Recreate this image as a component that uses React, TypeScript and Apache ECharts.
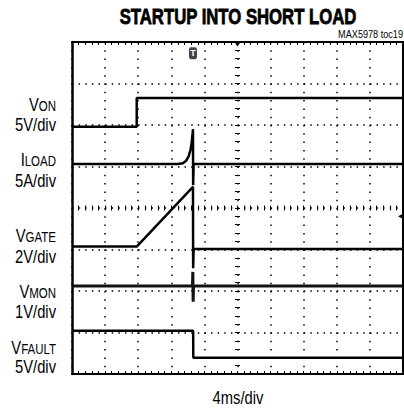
import React, { useEffect, useRef } from "react";
import * as echarts from "echarts";

// Axis extents in scope divisions
const xDivs = [0, 10];
const yDivs = [0, 8];

// Traces: [time (div), level (div)]
const vonTrace = [[0, 5.96], [1.955, 5.96], [1.955, 6.65], [10, 6.65]];
const iloadTrace = [
  [0, 5.06], [3.2, 5.06], [3.35, 5.08], [3.45, 5.14], [3.52, 5.24], [3.58, 5.4],
  [3.62, 5.6], [3.655, 5.9], [3.66, 4.55], [3.675, 5.06], [10, 5.06],
];
const vgateTrace = [[0, 3.07], [1.955, 3.07], [3.655, 4.51], [3.66, 2.55], [3.675, 3.01], [10, 3.01]];
const vmonTrace = [[0, 2.12], [3.64, 2.12], [3.65, 2.46], [3.66, 1.74], [3.67, 2.12], [10, 2.12]];
const vfaultTrace = [[0, 1.04], [3.66, 1.04], [3.665, 0.39], [10, 0.39]];

// Labels
const channelMain = ["V", "I", "V", "V", "V"];
const channelSub = ["ON", "LOAD", "GATE", "MON", "FAULT"];
const channelScale = ["5V/div", "5A/div", "2V/div", "1V/div", "5V/div"];
const titleText = "STARTUP INTO SHORT LOAD";
const tocText = "MAX5978 toc19";
const timeScale = "4ms/div";

// Markers (div coordinates)
const triggerMark = [3.655, 7.73];
const centerMark = [5, 8];
const levelMark = [10, 3.8];

const FONT = "'Liberation Sans Narrow', 'Liberation Sans', Arial, sans-serif";
const NARROW = 0.82;
const nameY = [105, 160, 236, 292, 348];
const scaleY = [124, 180, 256, 311, 366];

export default function App() {
  const ref = useRef<HTMLDivElement>(null);
  useEffect(() => {
    if (!ref.current) return;
    const chart = echarts.init(ref.current, undefined, { renderer: "svg" });
    const hDot = { show: true, lineStyle: { color: "#000", type: [1.5, 5.12], width: 1.5 } };
    const vDot = { show: true, lineStyle: { color: "#000", type: [1.5, 6.8], width: 1.5 } };
    const baseX = { type: "value", min: xDivs[0], max: xDivs[1], axisLabel: { show: false } };
    const baseY = { type: "value", min: yDivs[0], max: yDivs[1], axisLabel: { show: false } };
    const tickAxis = (base: any, position: string, opts: any) => ({
      ...base,
      position,
      interval: 0.2,
      splitLine: { show: false },
      axisLine: { show: false, onZero: false },
      axisTick: { show: true, length: 3, lineStyle: { color: "#000", width: 1 } },
      ...opts,
    });
    const line = (data: number[][], extra: any = {}) => ({
      type: "line",
      data,
      showSymbol: false,
      symbol: "none",
      lineStyle: { color: "#000", width: 2.5 },
      silent: true,
      ...extra,
    });
    const labelGraphics: any[] = [];
    for (let i = 0; i < channelMain.length; i++) {
      labelGraphics.push({
        type: "text",
        x: 56,
        y: nameY[i],
        scaleX: NARROW,
        style: {
          text: `{a|${channelMain[i]}}{b|${channelSub[i]}}`,
          align: "right",
          verticalAlign: "middle",
          fill: "#000",
          rich: {
            a: { fontSize: 18, fontFamily: FONT, lineHeight: 16, verticalAlign: "bottom", fill: "#000" },
            b: { fontSize: 14, fontFamily: FONT, lineHeight: 12, verticalAlign: "bottom", fill: "#000" },
          },
        },
      });
      labelGraphics.push({
        type: "text",
        x: 56,
        y: scaleY[i],
        scaleX: NARROW,
        style: {
          text: channelScale[i],
          align: "right",
          verticalAlign: "middle",
          fontSize: 18,
          lineHeight: 16,
          fontFamily: FONT,
          fill: "#000",
        },
      });
    }
    chart.setOption({
      animation: false,
      backgroundColor: "#fff",
      grid: { left: 72, right: 1, top: 42, bottom: 35 },
      xAxis: [
        {
          ...baseX,
          position: "bottom",
          interval: 1,
          axisLine: { show: true, onZero: false, lineStyle: { color: "#000", width: 2 } },
          axisTick: { show: false },
          splitLine: vDot,
        },
        tickAxis(baseX, "bottom", { axisTick: { show: true, inside: true, length: 3, lineStyle: { color: "#000" } } }),
        tickAxis(baseX, "top", {
          axisLine: { show: true, onZero: false, lineStyle: { color: "#000", width: 2 } },
          axisTick: { show: true, inside: true, length: 3, lineStyle: { color: "#000" } },
        }),
        tickAxis(baseX, "bottom", { offset: -166, axisTick: { show: true, inside: false, length: 2.5, lineStyle: { color: "#000" } } }),
        tickAxis(baseX, "bottom", { offset: -166, axisTick: { show: true, inside: true, length: 2.5, lineStyle: { color: "#000" } } }),
      ],
      yAxis: [
        {
          ...baseY,
          position: "left",
          interval: 1,
          axisLine: { show: true, onZero: false, lineStyle: { color: "#000", width: 2.5 } },
          axisTick: { show: false },
          splitLine: hDot,
        },
        {
          ...baseY,
          position: "right",
          interval: 1,
          axisLine: { show: true, onZero: false, lineStyle: { color: "#000", width: 2 } },
          axisTick: { show: false },
          splitLine: { show: false },
        },
        tickAxis(baseY, "left", { offset: -165.5, axisTick: { show: true, inside: false, length: 2.5, lineStyle: { color: "#000" } } }),
        tickAxis(baseY, "left", { offset: -165.5, axisTick: { show: true, inside: true, length: 2.5, lineStyle: { color: "#000" } } }),
      ],
      series: [
        line(vonTrace),
        line(iloadTrace),
        line(vgateTrace),
        line(vmonTrace, { lineStyle: { color: "#111", width: 3 } }),
        line(vfaultTrace, {
          markPoint: {
            silent: true,
            data: [
              {
                coord: triggerMark,
                symbol: "roundRect",
                symbolSize: [8, 12],
                itemStyle: { color: "#444" },
                label: { show: true, formatter: "T", color: "#fff", fontSize: 9, fontWeight: "bold", fontFamily: FONT },
              },
              {
                coord: centerMark,
                symbol: "triangle",
                symbolRotate: 180,
                symbolSize: [7, 5],
                symbolOffset: [0, 2],
                itemStyle: { color: "#000" },
                label: { show: false },
              },
              {
                coord: levelMark,
                symbol: "arrow",
                symbolRotate: 90,
                symbolSize: [7, 9],
                symbolOffset: [-5, 0],
                itemStyle: { color: "#000" },
                label: { show: false },
              },
            ],
          },
        }),
      ],
      graphic: [
        {
          type: "text",
          x: 238,
          y: 16,
          scaleX: 0.76,
          style: {
            text: titleText,
            align: "center",
            verticalAlign: "middle",
            fontSize: 22,
            fontWeight: "bold",
            fontFamily: FONT,
            fill: "#000",
            stroke: "#000",
            lineWidth: 0.8,
          },
        },
        {
          type: "text",
          x: 403,
          y: 34,
          scaleX: 0.83,
          style: { text: tocText, align: "right", verticalAlign: "middle", fontSize: 11, fontFamily: FONT, fill: "#000" },
        },
        {
          type: "text",
          x: 238,
          y: 397,
          scaleX: NARROW,
          style: { text: timeScale, align: "center", verticalAlign: "middle", fontSize: 18, fontFamily: FONT, fill: "#000" },
        },
        ...labelGraphics,
      ],
    });
    return () => chart.dispose();
  }, []);
  return <div ref={ref} style={{ position: "fixed", left: 0, top: 0, width: 404, height: 409 }} />;
}
